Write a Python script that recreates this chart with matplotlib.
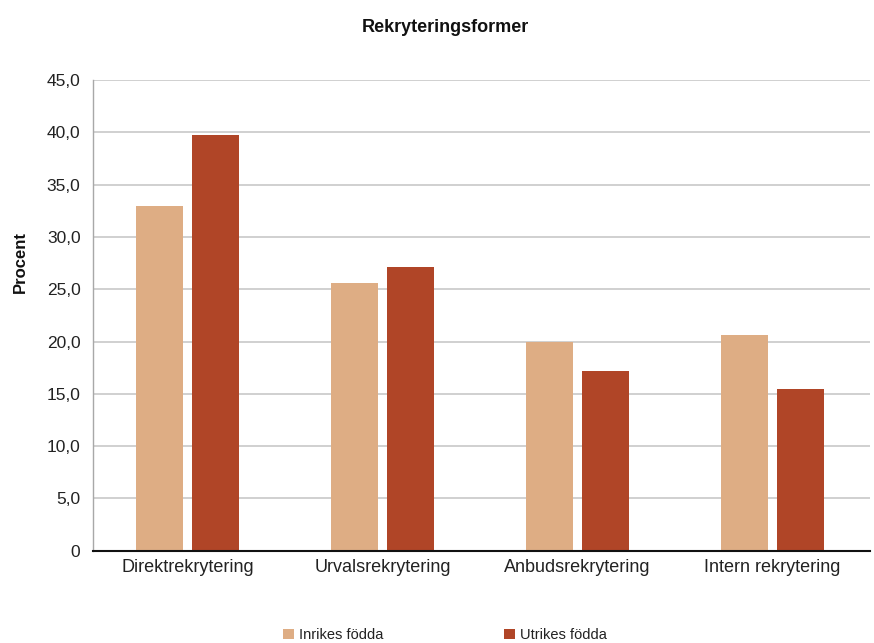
import matplotlib
matplotlib.use("Agg")
import matplotlib.pyplot as plt
import numpy as np

plt.rcParams['font.family'] = ['Liberation Sans', 'DejaVu Sans']

categories = ["Direktrekrytering", "Urvalsrekrytering", "Anbudsrekrytering", "Intern rekrytering"]
series_names = ["Inrikes födda", "Utrikes födda"]
inrikes = [33.0, 25.6, 20.0, 20.6]
utrikes = [39.7, 27.1, 17.2, 15.5]
y_ticks = [0, 5, 10, 15, 20, 25, 30, 35, 40, 45]
colors = ["#DEAD84", "#B04527"]

fig = plt.figure(figsize=(8.74, 6.43), dpi=100)
ax = fig.add_axes([0.1064, 0.1435, 0.8886, 0.7321])

x = np.arange(len(categories))
w = 0.241
off = 0.1436
b1 = ax.bar(x - off, inrikes, width=w, color=colors[0], label=series_names[0], zorder=3)
b2 = ax.bar(x + off, utrikes, width=w, color=colors[1], label=series_names[1], zorder=3)

ax.set_xlim(-0.485, 3.50)
ax.set_ylim(0, 45)
ax.set_yticks(y_ticks)
ax.set_yticklabels(["0" if v == 0 else f"{v:.1f}".replace(".", ",") for v in y_ticks])
ax.set_xticks(x)
ax.set_xticklabels(categories)
ax.tick_params(axis='y', length=0, pad=9, labelsize=12.5, colors='#222222')
ax.tick_params(axis='x', length=0, pad=6, labelsize=13, colors='#222222')

ax.grid(axis='y', color='#C8C8C8', linewidth=1.2, zorder=0)
for s in ['top', 'right']:
    ax.spines[s].set_visible(False)
ax.spines['left'].set_color('#A8A8A8')
ax.spines['left'].set_linewidth(1.0)
ax.spines['bottom'].set_color('#111111')
ax.spines['bottom'].set_linewidth(1.5)
ax.spines['bottom'].set_zorder(4)

fig.text(445 / 874, 1 - 27 / 643, "Rekryteringsformer", ha='center', va='center',
         fontsize=13, fontweight='bold', color='#111111')
fig.text(20 / 874, 1 - 262 / 643, "Procent", ha='center', va='center', rotation=90,
         fontsize=12, fontweight='bold', color='#111111')

fig.legend(handles=[b1, b2], loc='center', bbox_to_anchor=(445 / 874, 1 - 635 / 643),
           ncol=2, frameon=False, fontsize=10.5, handlelength=0.75, handleheight=0.75,
           handletextpad=0.35, columnspacing=8.3, labelcolor='#222222')

fig.savefig("out.png", dpi=100)
